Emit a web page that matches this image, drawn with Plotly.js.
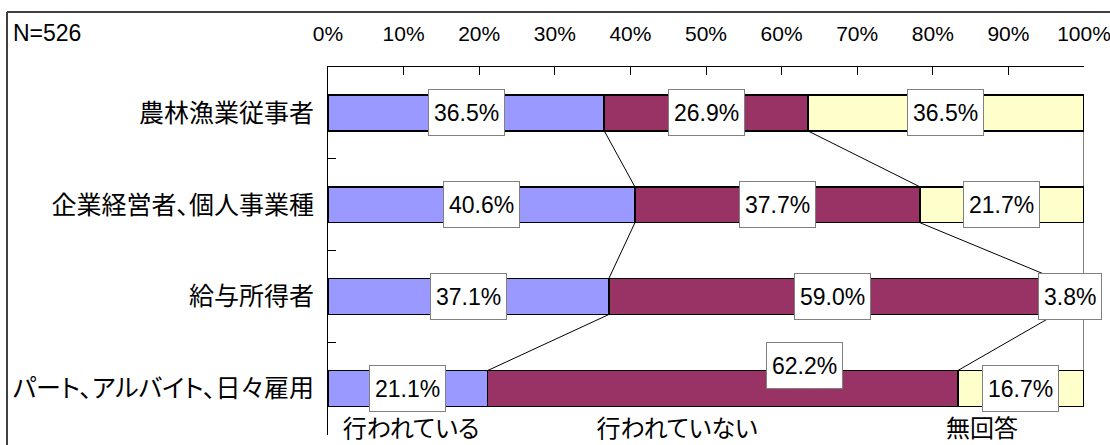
<!DOCTYPE html>
<html>
<head>
<meta charset="utf-8">
<script src="https://cdn.plot.ly/plotly-3.0.1.min.js"></script>
<style>
  html, body { margin: 0; padding: 0; background: #fff; }
  #chart { width: 1110px; height: 445px; }
  #chart text { font-feature-settings: "palt"; }
</style>
</head>
<body>
<div id="chart"></div>
<script>
// ---- data ----
const categories = ['農林漁業従事者', '企業経営者、個人事業種', '給与所得者', 'パート、アルバイト、日々雇用'];
const seriesNames = ['行われている', '行われていない', '無回答'];
const doneValues = [36.5, 40.6, 37.1, 21.1];
const notDoneValues = [26.9, 37.7, 59.0, 62.2];
const noAnswerValues = [36.5, 21.7, 3.8, 16.7];
const xTickValues = [0, 10, 20, 30, 40, 50, 60, 70, 80, 90, 100];
const xTickLabels = ['0%', '10%', '20%', '30%', '40%', '50%', '60%', '70%', '80%', '90%', '100%'];
const sampleLabel = 'N=526';

// ---- style ----
const colors = ['#9999FF', '#993366', '#FFFFCC'];
const NFONT = '"Liberation Sans Narrow", "Arial Narrow", "Liberation Sans", sans-serif';
const JFONT = '"Noto Sans CJK JP", sans-serif';
const barWidth = 0.39;
const L = 328, R = 26, T = 67, B = 10, W = 1110, H = 445;
const PW = W - L - R, PH = H - T - B;
const px2x = px => (px - L) / PW;
const py2y = py => (H - B - py) / PH;

const allSeries = [doneValues, notDoneValues, noAnswerValues];

const traces = allSeries.map((vals, k) => ({
  type: 'bar',
  orientation: 'h',
  name: seriesNames[k],
  x: vals,
  y: categories,
  width: barWidth,
  marker: { color: colors[k], line: { color: '#000', width: 1.5 } },
  hoverinfo: 'skip',
  showlegend: false
}));

// normalized cumulative bounds per row
const totals = categories.map((_, i) => allSeries.reduce((s, v) => s + v[i], 0));
const starts = allSeries.map((_, k) => categories.map((_, i) => {
  let s = 0; for (let j = 0; j < k; j++) s += allSeries[j][i];
  return s / totals[i] * 100;
}));
const ends = allSeries.map((vals, k) => categories.map((_, i) => starts[k][i] + vals[i] / totals[i] * 100));

// series lines
const shapes = [];
for (let k = 0; k < allSeries.length; k++) {
  for (let i = 0; i < categories.length - 1; i++) {
    shapes.push({
      type: 'line', xref: 'x', yref: 'y', layer: 'below',
      x0: ends[k][i], y0: i + barWidth / 2,
      x1: ends[k][i + 1], y1: i + 1 - barWidth / 2,
      line: { color: '#000', width: 1 }
    });
  }
}
// outer frame (top & left edges visible)
shapes.push({ type: 'line', xref: 'paper', yref: 'paper', x0: px2x(7), x1: px2x(1200), y0: py2y(12), y1: py2y(12), line: { color: '#404040', width: 2 } });
shapes.push({ type: 'line', xref: 'paper', yref: 'paper', x0: px2x(7), x1: px2x(7), y0: py2y(12), y1: py2y(500), line: { color: '#404040', width: 2 } });

// label offsets (manual label moves in original)
const labelShift = { '3-1': { x: 82, y: 23 } };

const annotations = [];
allSeries.forEach((vals, k) => {
  vals.forEach((v, i) => {
    const sh = labelShift[i + '-' + k] || { x: 0, y: 0 };
    annotations.push({
      x: (starts[k][i] + ends[k][i]) / 2, y: categories[i],
      xref: 'x', yref: 'y',
      text: v.toFixed(1) + '%',
      showarrow: false,
      xshift: sh.x, yshift: sh.y,
      height: 35,
      bgcolor: '#fff', bordercolor: '#808080', borderwidth: 1, borderpad: 5,
      font: { family: NFONT, size: 23, color: '#000' }
    });
  });
});

// series name labels at bottom
const seriesLabelPx = [411, 677, 982];
seriesNames.forEach((n, k) => {
  annotations.push({
    x: px2x(seriesLabelPx[k]), y: py2y(426), xref: 'paper', yref: 'paper',
    text: n, showarrow: false, xanchor: 'center', yanchor: 'middle',
    borderpad: 0,
    font: { family: JFONT, size: 24, color: '#000' }
  });
});
annotations.push({
  x: px2x(11), y: py2y(33), xref: 'paper', yref: 'paper',
  text: sampleLabel, showarrow: false, xanchor: 'left', yanchor: 'middle',
  font: { family: NFONT, size: 23, color: '#000' }
});

const layout = {
  width: W, height: H,
  margin: { l: L, r: R, t: T, b: B, pad: 0 },
  paper_bgcolor: '#fff', plot_bgcolor: '#fff',
  barmode: 'stack', barnorm: 'percent',
  font: { family: NFONT, color: '#000' },
  xaxis: {
    side: 'top', range: [0, 100], tickmode: 'array', tickvals: xTickValues, ticktext: xTickLabels,
    ticks: 'inside', ticklen: 8, tickcolor: '#000', tickwidth: 1,
    showline: true, linecolor: '#000', linewidth: 1,
    showgrid: false, zeroline: false, fixedrange: true,
    ticklabelstandoff: 17, ticklabeloverflow: 'allow',
    tickfont: { family: NFONT, size: 21, color: '#000' }
  },
  yaxis: {
    type: 'category', categoryarray: categories, autorange: 'reversed',
    ticks: 'inside', tickson: 'boundaries', ticklen: 8, tickcolor: '#000', tickwidth: 1,
    showline: true, linecolor: '#000', linewidth: 1,
    showgrid: false, zeroline: false, fixedrange: true,
    ticklabelstandoff: 8,
    tickfont: { family: JFONT, size: 25, color: '#000' }
  },
  shapes: shapes,
  annotations: annotations,
  showlegend: false
};

Plotly.newPlot('chart', traces, layout, { displayModeBar: false, staticPlot: true });
</script>
</body>
</html>
